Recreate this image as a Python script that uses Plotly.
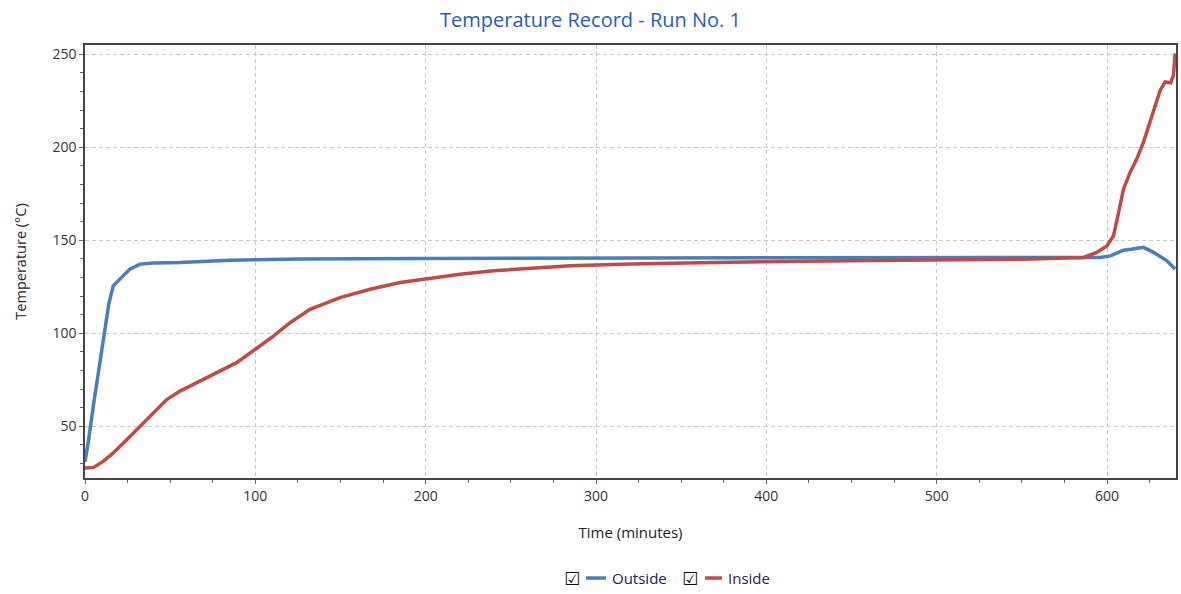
import plotly.graph_objects as go

# ---- data ----
outside_t = [0, 2, 4.9, 8, 11.7, 14, 16.6, 19, 22.5, 26.4, 32.3, 40, 55.8, 85, 126, 200, 300,
             400, 500, 537, 560, 596, 602, 609.7, 615, 621.4, 627.3, 635.2, 640]
outside_T = [31, 42, 61, 80, 104, 116, 125.5, 128, 131, 134.5, 137.2, 137.8, 138.1, 139.3, 139.9,
             140.2, 140.5, 140.8, 140.8, 140.8, 140.8, 140.8, 141.6, 144.7, 145.3, 146.2, 143.5,
             139, 134.5]

inside_t = [0, 5, 10.7, 16.6, 24.5, 32.3, 40.1, 48, 55.8, 67.5, 79.3, 89, 99.8, 110.6, 120.4,
            132.1, 149.7, 167.4, 185, 200.6, 220.2, 239.8, 263.3, 285, 320, 369, 447, 500, 550,
            586.2, 594, 599.9, 603.8, 606.8, 609.7, 613.6, 617.5, 621.4, 627.3, 631.2, 634.1,
            637.4, 639, 640]
inside_T = [27.6, 27.9, 31.1, 35.7, 42.8, 50, 57.2, 64.4, 68.9, 74.3, 79.6, 84.2, 91.3, 98.5,
            105.7, 112.9, 119.2, 123.7, 127.3, 129.5, 131.8, 133.6, 135, 136.3, 137.2, 138.1,
            139, 139.3, 139.8, 140.8, 143.5, 147, 152.4, 165, 177.6, 186.6, 193.8, 202.8, 219,
            230.6, 235.1, 234.7, 238.7, 250.5]

series_names = ["Outside", "Inside"]
x_ticks = [0, 100, 200, 300, 400, 500, 600]
y_ticks = [50, 100, 150, 200, 250]

BLUE = "#4A7EBB"
RED = "#BE4B48"
FONT = "Open Sans"

fig = go.Figure()
fig.add_trace(go.Scatter(x=outside_t, y=outside_T, mode="lines", name=series_names[0],
                         line=dict(color=BLUE, width=3.5), showlegend=False))
fig.add_trace(go.Scatter(x=inside_t, y=inside_T, mode="lines", name=series_names[1],
                         line=dict(color=RED, width=3.5), showlegend=False))

axis_common = dict(
    showline=True, linecolor="#444444", linewidth=1.5, mirror=True,
    showgrid=True, gridcolor="#C8C8C8", griddash="4px,3px", gridwidth=1,
    zeroline=False, ticks="outside", ticklen=4, tickcolor="#666666",
    tickfont=dict(family=FONT, size=14, color="#333333"), automargin=False,
)

fig.update_xaxes(range=[0, 640.5], tickvals=x_ticks,
                 minor=dict(dtick=25, ticks="outside", ticklen=3, tickcolor="#666666", showgrid=False),
                 title=dict(text="Time (minutes)", font=dict(family=FONT, size=15, color="#222222"),
                            standoff=24),
                 **axis_common)
fig.update_yaxes(range=[22.2, 255], tickvals=y_ticks,
                 minor=dict(dtick=10, ticks="outside", ticklen=3, tickcolor="#666666", showgrid=False),
                 title=dict(text="Temperature (°C)", font=dict(family=FONT, size=14.5, color="#222222"),
                            standoff=22),
                 **axis_common)

fig.update_layout(
    width=1181, height=594,
    margin=dict(l=85, r=5, t=45, b=116, autoexpand=False),
    paper_bgcolor="white", plot_bgcolor="white",
    title=dict(text="Temperature Record - Run No. 1", x=0.5, xanchor="center",
               y=0.966, yanchor="middle",
               font=dict(family=FONT, size=20, color="#2A5BB8"), automargin=False),
    showlegend=False,
)

# hand-built legend: checkbox, line sample, label
legend_y = -0.231
items = [
    (0.4464, 0.4592, 0.4775, 0.4812, series_names[0], BLUE),
    (0.5545, 0.5683, 0.5839, 0.5875, series_names[1], RED),
]
for cb_x, l0, l1, tx, name, col in items:
    fig.add_annotation(text="☑", xref="paper", yref="paper", x=cb_x, y=legend_y,
                       xanchor="center", yanchor="middle", showarrow=False,
                       font=dict(family="DejaVu Sans", size=18, color="#111111"))
    fig.add_shape(type="line", xref="paper", yref="paper", x0=l0, x1=l1,
                  y0=legend_y, y1=legend_y, line=dict(color=col, width=3.5))
    fig.add_annotation(text=name, xref="paper", yref="paper", x=tx, y=legend_y,
                       xanchor="left", yanchor="middle", showarrow=False,
                       font=dict(family=FONT, size=15, color="#222255"))

fig.write_html("out.html", config={"displayModeBar": False},
               post_script="document.body.style.margin='0';document.body.style.overflow='hidden';")
